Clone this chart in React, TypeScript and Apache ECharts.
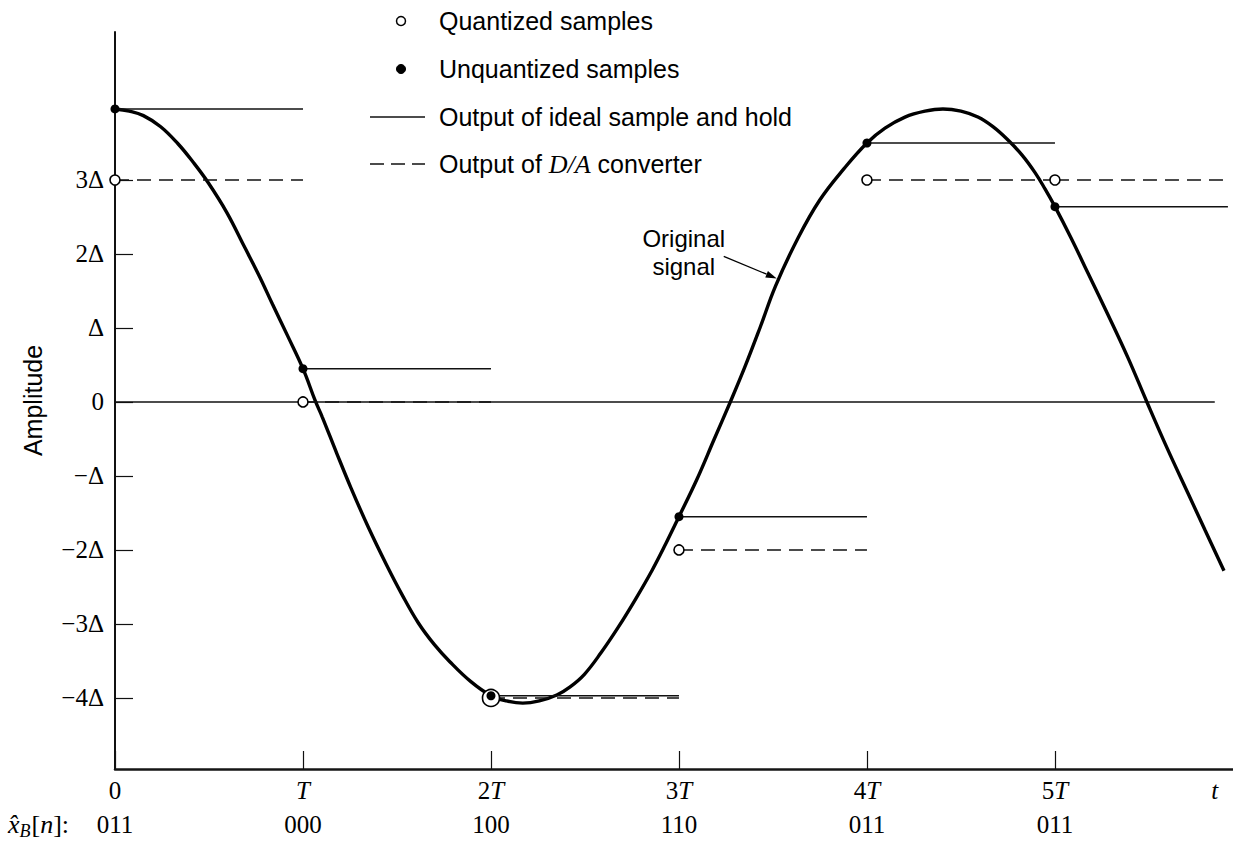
import React, { useEffect, useRef } from 'react';
import * as echarts from 'echarts';

// ---- data ----
const sampleTimes = [0, 1, 2, 3, 4, 5];
const unquantized = [3.96, 0.45, -3.97, -1.55, 3.5, 2.64];
const quantized = [3, 0, -4, -2, 3, 3];
const codes = ['011', '000', '100', '110', '011', '011'];

const yTickValues = [-4, -3, -2, -1, 0, 1, 2, 3];
const yTickLabels = ['−4Δ', '−3Δ', '−2Δ', '−Δ', '0', 'Δ', '2Δ', '3Δ'];
const xTickValues = [0, 1, 2, 3, 4, 5];
const xTickLabels = ['0', '{i|T}', '2{i|T}', '3{i|T}', '4{i|T}', '5{i|T}'];
const timeLabelValue = 5.85;

// original (continuous) signal
const signalT = [
  0, 0.076, 0.151, 0.243, 0.335, 0.416, 0.497, 0.595, 0.692, 0.768, 0.838, 0.919,
  1.0, 1.066, 1.102, 1.179, 1.255, 1.347, 1.444, 1.526, 1.612, 1.699, 1.781, 1.893,
  2.0, 2.082, 2.169, 2.257, 2.35, 2.421, 2.497, 2.585, 2.678, 2.77, 2.858, 2.929,
  3.0, 3.098, 3.186, 3.273, 3.35, 3.432, 3.514, 3.634, 3.749, 3.88,
  4.0, 4.096, 4.202, 4.309, 4.404, 4.5, 4.59, 4.67, 4.75, 4.824, 4.894, 4.947,
  5.0, 5.085, 5.176, 5.282, 5.388, 5.489, 5.596, 5.707, 5.798, 5.899,
];
const signalV = [
  3.96, 3.93, 3.87, 3.72, 3.49, 3.24, 2.96, 2.56, 2.08, 1.7, 1.32, 0.89,
  0.45, 0.01, -0.2, -0.69, -1.16, -1.69, -2.2, -2.6, -2.98, -3.28, -3.51, -3.78,
  -3.97, -4.04, -4.07, -4.04, -3.96, -3.85, -3.68, -3.39, -3.04, -2.66, -2.27, -1.92,
  -1.55, -1.03, -0.51, 0, 0.47, 1.01, 1.57, 2.22, 2.73, 3.16,
  3.5, 3.7, 3.85, 3.93, 3.96, 3.93, 3.85, 3.72, 3.54, 3.34, 3.1, 2.88,
  2.64, 2.22, 1.74, 1.18, 0.6, 0, -0.62, -1.23, -1.73, -2.28,
];

const lastHoldEnd = 5.92;
const zeroLineEnd = 5.85;
const arrowTip = [3.52, 1.67];

const xMin = 0;
const xMax = 5.947;
const yMin = -4.96;
const yMax = 5;

const serif = '"Liberation Serif", "Times New Roman", Times, serif';
const sans = '"Liberation Sans", Arial, Helvetica, sans-serif';

function findIdx(arr: number[], v: number) {
  for (let i = 0; i < arr.length; i++) if (Math.abs(arr[i] - v) < 1e-6) return i;
  return -1;
}

function buildOption(): any {
  const holdEnd = (i: number) => (i < sampleTimes.length - 1 ? sampleTimes[i + 1] : lastHoldEnd);

  const holdSeries = sampleTimes.map((t, i) => ({
    type: 'line',
    name: 'Output of ideal sample and hold',
    data: [[t, unquantized[i]], [holdEnd(i), unquantized[i]]],
    symbol: 'none',
    silent: true,
    lineStyle: { color: '#111', width: 1.5 },
    z: 3,
  }));
  const daSeries = sampleTimes.map((t, i) => ({
    type: 'line',
    name: 'Output of D/A converter',
    data: [[t, quantized[i]], [holdEnd(i), quantized[i]]],
    symbol: 'none',
    silent: true,
    lineStyle: { color: '#111', width: 1.5, type: [14, 8] },
    z: 3,
  }));

  return {
    animation: false,
    backgroundColor: '#fff',
    grid: [
      { left: 115, right: 0, top: 32, bottom: 75 },
      { left: 115, right: 0, top: 32, bottom: 75 },
    ],
    xAxis: [
      {
        type: 'value',
        gridIndex: 0,
        min: xMin,
        max: xMax,
        position: 'bottom',
        axisLine: { onZero: false, lineStyle: { color: '#151515', width: 2.5 } },
        axisTick: { show: true, inside: true, length: 18, customValues: xTickValues, lineStyle: { color: '#111', width: 1.2 } },
        axisLabel: {
          customValues: [...xTickValues, timeLabelValue],
          margin: 9,
          color: '#000',
          fontFamily: serif,
          fontSize: 25,
          formatter: (v: number) => {
            if (Math.abs(v - timeLabelValue) < 1e-6) return '{i|t}';
            const k = findIdx(xTickValues, v);
            return k >= 0 ? xTickLabels[k] : '';
          },
          rich: { i: { fontStyle: 'italic', fontFamily: serif, fontSize: 25, color: '#000' } },
        },
        splitLine: { show: false },
      },
      {
        type: 'value',
        gridIndex: 1,
        min: xMin,
        max: xMax,
        position: 'bottom',
        axisLine: { show: false },
        axisTick: { show: false },
        splitLine: { show: false },
        axisLabel: {
          customValues: xTickValues,
          margin: 43,
          color: '#000',
          fontFamily: serif,
          fontSize: 25,
          formatter: (v: number) => {
            const k = findIdx(xTickValues, v);
            return k >= 0 ? codes[k] : '';
          },
        },
      },
    ],
    yAxis: [
      {
        type: 'value',
        gridIndex: 0,
        min: yMin,
        max: yMax,
        name: 'Amplitude',
        nameLocation: 'middle',
        nameRotate: 90,
        nameGap: 70,
        nameTextStyle: { fontFamily: sans, fontSize: 25, color: '#000' },
        axisLine: { show: true, lineStyle: { color: '#111', width: 2 } },
        axisTick: { show: true, inside: true, length: 18, customValues: yTickValues, lineStyle: { color: '#111', width: 1.2 } },
        axisLabel: {
          customValues: yTickValues,
          margin: 11,
          color: '#000',
          fontFamily: serif,
          fontSize: 25,
          formatter: (v: number) => {
            const k = findIdx(yTickValues, v);
            return k >= 0 ? yTickLabels[k] : '';
          },
        },
        splitLine: { show: false },
      },
      {
        type: 'value',
        gridIndex: 1,
        min: yMin,
        max: yMax,
        show: false,
      },
    ],
    series: [
      {
        type: 'line',
        name: 'Zero level',
        data: [[0, 0], [zeroLineEnd, 0]],
        symbol: 'none',
        silent: true,
        lineStyle: { color: '#111', width: 1.6 },
        z: 2,
      },
      {
        type: 'line',
        name: 'Original signal',
        data: signalT.map((t, i) => [t, signalV[i]]),
        symbol: 'none',
        smooth: 0.4,
        silent: true,
        lineStyle: { color: '#000', width: 3.4 },
        z: 2,
      },
      ...holdSeries,
      ...daSeries,
      {
        type: 'scatter',
        name: 'Quantized samples',
        data: sampleTimes.map((t, i) => [t, quantized[i]]),
        symbol: 'circle',
        symbolSize: (_v: any, p: any) =>
          Math.abs(quantized[p.dataIndex] - unquantized[p.dataIndex]) < 0.1 ? 17 : 10,
        itemStyle: { color: '#fff', borderColor: '#000', borderWidth: 1.6, opacity: 1 },
        silent: true,
        z: 5,
      },
      {
        type: 'scatter',
        name: 'Unquantized samples',
        data: sampleTimes.map((t, i) => [t, unquantized[i]]),
        symbol: 'circle',
        symbolSize: 9,
        itemStyle: { color: '#000', opacity: 1 },
        silent: true,
        z: 6,
      },
    ],
  };
}

function legendGraphics(): any[] {
  const lx = 439;
  const rows = [21, 69, 117, 164];
  const textBase = { fontFamily: sans, fontSize: 25, fill: '#000', align: 'left', verticalAlign: 'middle' };
  return [
    { type: 'circle', shape: { cx: 401, cy: rows[0], r: 4.5 }, style: { fill: '#fff', stroke: '#000', lineWidth: 1.5 } },
    { type: 'text', x: lx, y: rows[0], style: { ...textBase, text: 'Quantized samples' } },
    { type: 'circle', shape: { cx: 401, cy: rows[1], r: 4.5 }, style: { fill: '#000', stroke: '#000', lineWidth: 1 } },
    { type: 'text', x: lx, y: rows[1], style: { ...textBase, text: 'Unquantized samples' } },
    { type: 'line', shape: { x1: 370, y1: rows[2], x2: 425, y2: rows[2] }, style: { stroke: '#111', lineWidth: 1.5 } },
    { type: 'text', x: lx, y: rows[2], style: { ...textBase, text: 'Output of ideal sample and hold' } },
    { type: 'line', shape: { x1: 370, y1: rows[3], x2: 425, y2: rows[3] }, style: { stroke: '#111', lineWidth: 1.5, lineDash: [14, 7] } },
    {
      type: 'text',
      x: lx,
      y: rows[3],
      style: {
        ...textBase,
        text: 'Output of {it|D/A} converter',
        rich: { it: { fontFamily: serif, fontStyle: 'italic', fontSize: 26, fill: '#000' } },
      },
    },
    {
      type: 'text',
      x: 8,
      y: 824,
      style: {
        text: '{i|x̂}{s|B}{r|[}{i|n}{r|]:}',
        align: 'left',
        verticalAlign: 'middle',
        fill: '#000',
        rich: {
          i: { fontFamily: serif, fontStyle: 'italic', fontSize: 26, fill: '#000' },
          s: { fontFamily: serif, fontStyle: 'italic', fontSize: 18, fill: '#000', padding: [14, 1, 0, 0] },
          r: { fontFamily: serif, fontSize: 26, fill: '#000' },
        },
      },
    },
  ];
}

export default function App() {
  const ref = useRef<HTMLDivElement>(null);
  useEffect(() => {
    const el = ref.current;
    if (!el) return;
    const chart = echarts.init(el, null, { renderer: 'svg' });
    chart.setOption(buildOption());

    const tip = chart.convertToPixel({ gridIndex: 0 }, arrowTip) as number[];
    const tail = [tip[0] - 53, tip[1] - 22];
    const dx = tip[0] - tail[0];
    const dy = tip[1] - tail[1];
    const len = Math.sqrt(dx * dx + dy * dy);
    const ux = dx / len;
    const uy = dy / len;
    const nx = -uy;
    const ny = ux;
    const headL = 11;
    const headW = 3.5;
    const base = [tip[0] - ux * headL, tip[1] - uy * headL];

    const annotation = [
      { type: 'line', shape: { x1: tail[0], y1: tail[1], x2: base[0], y2: base[1] }, style: { stroke: '#000', lineWidth: 1.3 } },
      {
        type: 'polygon',
        shape: { points: [[tip[0], tip[1]], [base[0] + nx * headW, base[1] + ny * headW], [base[0] - nx * headW, base[1] - ny * headW]] },
        style: { fill: '#000' },
      },
      {
        type: 'text',
        x: tail[0] - 40,
        y: tail[1] - 4,
        style: {
          text: 'Original\nsignal',
          align: 'center',
          verticalAlign: 'middle',
          fontFamily: sans,
          fontSize: 24,
          lineHeight: 28,
          fill: '#000',
        },
      },
    ];

    chart.setOption({ graphic: [...legendGraphics(), ...annotation] });
    return () => chart.dispose();
  }, []);
  return <div ref={ref} style={{ position: 'fixed', left: 0, top: 0, width: 1233, height: 844, background: '#fff' }} />;
}
